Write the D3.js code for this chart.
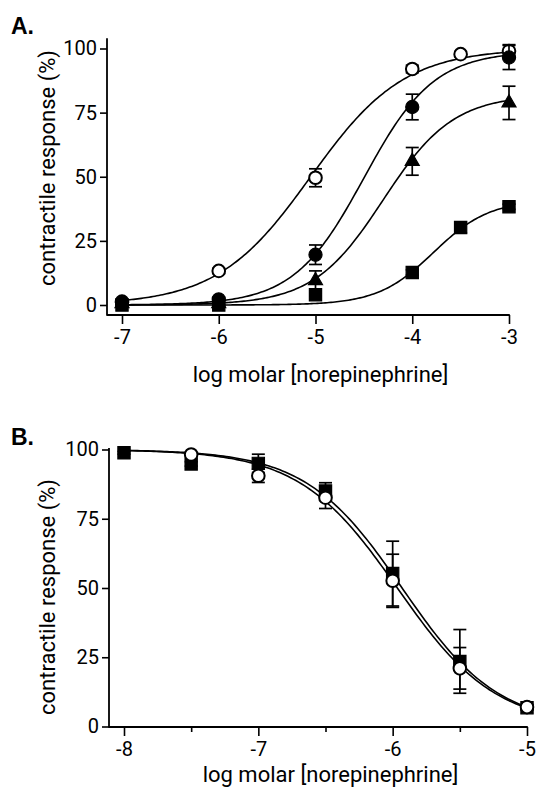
<!DOCTYPE html>
<html><head><meta charset="utf-8">
<script src="https://cdn.jsdelivr.net/npm/d3@7"></script>
<style>body{margin:0;background:#fff} svg{display:block}</style>
</head><body>
<svg id="chart" width="541" height="796"></svg>
<script>
// ---------- Panel A data (log molar dose, % response, SEM) ----------
const aDoseControl = [-7, -6, -5, -4, -3.5, -3];
const aRespControl = [1.3, 13.3, 49.6, 92.0, 97.8, 99.0];
const aSemControl  = [0.8, 1.0, 3.5, 1.5, 1.0, 2.5];

const aDoseFilled = [-7, -6, -5, -4, -3];
const aRespFilled = [1.0, 2.2, 19.6, 77.2, 96.5];
const aSemFilled  = [0.5, 0.8, 3.8, 5.0, 4.7];

const aDoseTri = [-7, -6, -5, -4, -3];
const aRespTri = [0.5, 0.5, 9.5, 56.0, 78.8];
const aSemTri  = [0.3, 0.3, 3.8, 5.4, 6.5];

const aDoseSq = [-7, -6, -5, -4, -3.5, -3];
const aRespSq = [0.0, 0.0, 4.0, 12.7, 30.2, 38.3];
const aSemSq  = [0.2, 0.2, 0.5, 1.0, 2.0, 1.0];

// fitted sigmoid parameters (top, logEC50, Hill slope), order: control, filled, triangle, square
const aFitTop   = [100, 99, 82, 41];
const aFitEC50  = [-5.05, -4.5, -4.3, -3.78];
const aFitHill  = [0.9, 1.2, 1.2, 1.5];

const aXTicks = [-7, -6, -5, -4, -3];
const yTicks = [0, 25, 50, 75, 100];

// ---------- Panel B data ----------
const bDoseSq = [-8, -7.5, -7, -6.5, -6, -5.5, -5];
const bRespSq = [98.8, 94.8, 95.0, 85.0, 55.2, 23.5, 6.8];
const bSemSq  = [0.5, 0.8, 3.3, 3.0, 11.7, 11.5, 0.8];

const bDoseCirc = [-7.5, -7, -6.5, -6, -5.5, -5];
const bRespCirc = [98.2, 90.5, 82.6, 52.6, 21.0, 7.0];
const bSemCirc  = [0.5, 2.4, 3.9, 9.6, 7.5, 0.8];

// fitted inhibition parameters (top, logIC50, Hill slope), order: square, circle
const bFitTop  = [100, 100];
const bFitIC50 = [-5.93, -5.965];
const bFitHill = [1.21, 1.19];

const bXMajor = [-8, -7, -6, -5];
const bXMinor = [-7.5, -6.5, -5.5];

const xTitle = "log molar [norepinephrine]";
const yTitle = "contractile response (%)";

// ---------- drawing ----------
const svg = d3.select("#chart");
const FONT = "Roboto, 'Open Sans', sans-serif";

function sigmoid(top, ec50, hill, sign) {
  return x => top / (1 + Math.pow(10, sign * (ec50 - x) * hill));
}

function series(dose, resp, sem) {
  return dose.map((d, i) => ({x: d, y: resp[i], e: sem[i]}));
}

function drawPanel(cfg) {
  const g = svg.append("g");
  const x = d3.scaleLinear().domain(cfg.xDomain).range(cfg.xRange);
  const y = d3.scaleLinear().domain([0, 100]).range(cfg.yRange);

  // y axis
  const yAx = g.append("g").attr("transform", `translate(${cfg.axisX},0)`)
    .call(d3.axisLeft(y).tickValues(yTicks).tickSize(7).tickSizeOuter(0).tickPadding(3));
  yAx.select(".domain").remove();
  yAx.selectAll(".tick line").attr("stroke-width", 1.6);
  yAx.selectAll(".tick text").attr("font-family", FONT).attr("font-size", 20).attr("fill", "#000");
  g.append("line").attr("x1", cfg.axisX).attr("x2", cfg.axisX)
    .attr("y1", y(cfg.yTop)).attr("y2", cfg.axisY + 0.8)
    .attr("stroke", "#000").attr("stroke-width", 1.8);

  // x axis
  const xAx = g.append("g").attr("transform", `translate(0,${cfg.axisY})`)
    .call(d3.axisBottom(x).tickValues(cfg.xTicks).tickSize(9).tickSizeOuter(0).tickPadding(6)
      .tickFormat(d => d3.format("d")(d).replace("−", "-")));
  xAx.select(".domain").remove();
  xAx.selectAll(".tick line").attr("stroke-width", 1.6);
  xAx.selectAll(".tick text").attr("font-family", FONT).attr("font-size", 20).attr("fill", "#000");
  if (cfg.xMinor) {
    const mAx = g.append("g").attr("transform", `translate(0,${cfg.axisY})`)
      .call(d3.axisBottom(x).tickValues(cfg.xMinor).tickSize(5).tickSizeOuter(0).tickFormat(""));
    mAx.select(".domain").remove();
    mAx.selectAll(".tick line").attr("stroke-width", 1.6);
  }
  g.append("line").attr("x1", cfg.axisX).attr("x2", x(cfg.xDomain[1]) + 0.8)
    .attr("y1", cfg.axisY).attr("y2", cfg.axisY)
    .attr("stroke", "#000").attr("stroke-width", 1.8);

  // titles
  g.append("text").attr("x", (cfg.xRange[0] + cfg.xRange[1]) / 2 + 5).attr("y", cfg.xTitleY)
    .attr("text-anchor", "middle").attr("font-family", FONT).attr("font-size", 22).text(xTitle);
  g.append("text").attr("transform", `translate(${cfg.yTitleX},${cfg.yTitleY}) rotate(-90)`)
    .attr("text-anchor", "middle").attr("font-family", FONT).attr("font-size", 22).text(yTitle);
  g.append("text").attr("x", 11).attr("y", cfg.labelY).attr("font-family", "Arial, 'Liberation Sans', sans-serif")
    .attr("font-weight", "bold").attr("font-size", 23).text(cfg.label);

  // fitted curves
  const line = d3.line().x(d => x(d[0])).y(d => y(d[1]));
  cfg.fits.forEach(f => {
    const pts = d3.range(cfg.xDomain[0], cfg.xDomain[1] + 1e-9, 0.02).map(v => [v, f(v)]);
    g.append("path").attr("d", line(pts)).attr("fill", "none")
      .attr("stroke", "#000").attr("stroke-width", 1.6);
  });

  // error bars + markers
  cfg.series.forEach(s => {
    const eb = g.append("g").attr("stroke", "#000").attr("stroke-width", 1.7);
    s.data.forEach(d => {
      const cx = x(d.x), y1 = y(d.y + d.e), y2 = y(d.y - d.e);
      eb.append("line").attr("x1", cx).attr("x2", cx).attr("y1", y1).attr("y2", y2);
      eb.append("line").attr("x1", cx - 6.5).attr("x2", cx + 6.5).attr("y1", y1).attr("y2", y1);
      eb.append("line").attr("x1", cx - 6.5).attr("x2", cx + 6.5).attr("y1", y2).attr("y2", y2);
    });
    g.append("g").selectAll("path").data(s.data).join("path")
      .attr("transform", d => `translate(${x(d.x)},${y(d.y) + (s.dy || 0)})`)
      .attr("d", d3.symbol().type(s.type).size(s.size))
      .attr("fill", s.fill).attr("stroke", "#000").attr("stroke-width", s.sw || 1.2);
  });
}

drawPanel({
  label: "A.", labelY: 34,
  xDomain: [-7, -3], xRange: [122, 509], yRange: [305, 48.5], yTop: 104,
  axisX: 107, axisY: 315, xTicks: aXTicks,
  xTitleY: 382, yTitleX: 55, yTitleY: 168,
  fits: aFitTop.map((t, i) => sigmoid(t, aFitEC50[i], aFitHill[i], 1)),
  series: [
    {data: series(aDoseControl, aRespControl, aSemControl), type: d3.symbolCircle, size: 125, fill: "#fff", sw: 2},
    {data: series(aDoseFilled, aRespFilled, aSemFilled), type: d3.symbolCircle, size: 135, fill: "#000"},
    {data: series(aDoseTri, aRespTri, aSemTri), type: d3.symbolTriangle, size: 85, fill: "#000", dy: 0},
    {data: series(aDoseSq, aRespSq, aSemSq), type: d3.symbolSquare, size: 150, fill: "#000"}
  ]
});

drawPanel({
  label: "B.", labelY: 445,
  xDomain: [-8, -5], xRange: [124, 527], yRange: [726.5, 449.5], yTop: 100.5,
  axisX: 109, axisY: 727, xTicks: bXMajor, xMinor: bXMinor,
  xTitleY: 782, yTitleX: 55, yTitleY: 597,
  fits: bFitTop.map((t, i) => sigmoid(t, bFitIC50[i], bFitHill[i], -1)),
  series: [
    {data: series(bDoseSq, bRespSq, bSemSq), type: d3.symbolSquare, size: 150, fill: "#000"},
    {data: series(bDoseCirc, bRespCirc, bSemCirc), type: d3.symbolCircle, size: 125, fill: "#fff", sw: 2}
  ]
});
</script>
</body></html>
